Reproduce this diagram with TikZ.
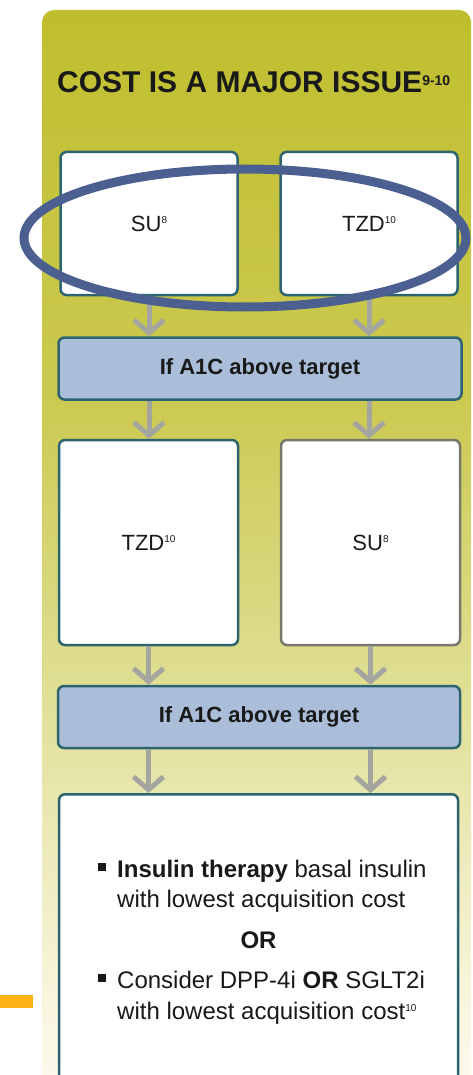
\documentclass[tikz,border=0pt]{standalone}
\usepackage{fontspec}
\setmainfont{Liberation Sans}
\usetikzlibrary{arrows.meta,positioning}

\definecolor{boxline}{RGB}{45,100,112}
\definecolor{suline}{RGB}{120,120,108}
\definecolor{bandfill}{RGB}{170,190,218}
\definecolor{arrowgray}{RGB}{165,165,160}
\definecolor{ringblue}{RGB}{75,95,145}
\definecolor{flagorange}{RGB}{250,178,20}
\definecolor{inkblack}{RGB}{25,25,25}

\pgfdeclareverticalshading{panelshade}{100bp}{rgb(0bp)=(0.99,0.98,0.94); rgb(25bp)=(0.99,0.98,0.94); rgb(29bp)=(0.98,0.965,0.88); rgb(43bp)=(0.88,0.88,0.6); rgb(57bp)=(0.8,0.79,0.32); rgb(75bp)=(0.75,0.745,0.18); rgb(100bp)=(0.75,0.745,0.18)}

\newcommand{\refmark}[1]{\raisebox{8pt}{\fontsize{10}{10}\selectfont #1}}
\newcommand{\sqbullet}{\makebox[19pt][l]{\rule[6pt]{8pt}{8pt}}}

\tikzset{
  drug/.style={draw=boxline, line width=2.5pt, fill=white, rounded corners=6pt,
    minimum width=178pt, minimum height=143pt, inner sep=0pt,
    font=\fontsize{22}{26}\selectfont, text=inkblack},
  band/.style={draw=boxline, line width=2.5pt, fill=bandfill, rounded corners=6pt,
    minimum width=403pt, minimum height=62pt, inner sep=0pt,
    font=\bfseries\fontsize{22}{26}\selectfont, text=inkblack},
  flow/.style={draw=arrowgray, line width=5pt, -{Straight Barb[length=13pt,width=30pt]}},
  choice/.style={anchor=base west, inner sep=0pt, font=\fontsize{24}{30}\selectfont, text=inkblack}
}

\begin{document}
\begin{tikzpicture}[x=1pt,y=-1pt]
\useasboundingbox (0,0) rectangle (472,1075);
\clip (0,0) rectangle (472,1075);
% panel
\shade[shading=panelshade, rounded corners=12pt] (42,10) rectangle (471,1100);
\node[anchor=base west, inner sep=0pt, font=\bfseries\fontsize{30}{36}\selectfont, text=inkblack] (title) at (57,93) {COST IS A MAJOR ISSUE\raisebox{7pt}{\fontsize{14}{14}\selectfont 9-10}};
% first choice
\node[drug, minimum width=177pt] (su1) at (149,223.5) {SU\refmark{8}};
\node[drug, minimum width=177pt] (tzd1) at (369,223.5) {TZD\refmark{10}};
\node[band] (band1) at (260,368.5) {If A1C above target};
% second choice
\node[drug, minimum height=205pt, minimum width=179pt] (tzd2) at (148.5,542.5) {TZD\refmark{10}};
\node[drug, draw=suline, minimum height=205pt, minimum width=179pt] (su2) at (370.5,542.5) {SU\refmark{8}};
\node[band, minimum width=402pt] (band2) at (259,717) {If A1C above target};
% last step
\node[drug, anchor=north, minimum width=399pt, minimum height=310pt] (last) at (258.5,793) {};
\node[choice] (ins1) at (98,877) {\sqbullet\textbf{Insulin therapy} basal insulin};
\node[choice] (ins2) at (117,907) {with lowest acquisition cost};
\node[choice, anchor=base, font=\bfseries\fontsize{24}{30}\selectfont] (alt) at (258.5,948) {OR};
\node[choice] (dpp1) at (98,988) {\sqbullet Consider DPP-4i \textbf{OR} SGLT2i};
\node[choice] (dpp2) at (117,1019) {with lowest acquisition cost\refmark{10}};
% arrows
\draw[flow] (su1.south) -- (su1.south |- band1.north);
\draw[flow] (tzd1.south) -- (tzd1.south |- band1.north);
\draw[flow] (su1.south |- band1.south) -- (su1.south |- tzd2.north);
\draw[flow] (tzd1.south |- band1.south) -- (tzd1.south |- su2.north);
\draw[flow] (tzd2.south) -- (tzd2.south |- band2.north);
\draw[flow] (su2.south) -- (su2.south |- band2.north);
\draw[flow] (tzd2.south |- band2.south) -- (tzd2.south |- last.north);
\draw[flow] (su2.south |- band2.south) -- (su2.south |- last.north);
% ring and flag
\draw[ringblue, line width=9pt] (245,238) ellipse (221 and 69);
\fill[flagorange] (0,995) rectangle (33,1008);
\end{tikzpicture}
\end{document}
